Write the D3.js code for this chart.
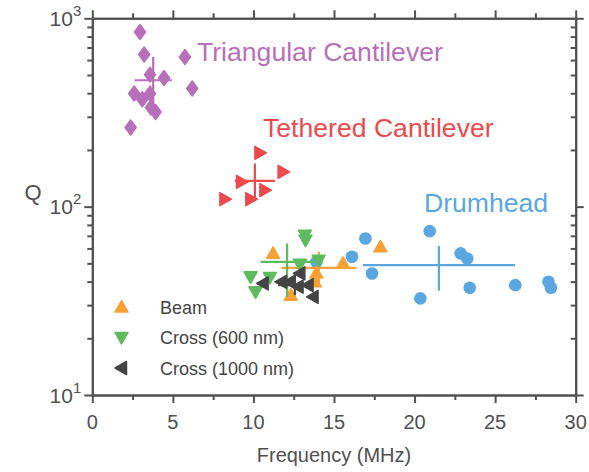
<!DOCTYPE html>
<html><head><meta charset="utf-8">
<script src="https://cdn.jsdelivr.net/npm/d3@7"></script>
<style>body{margin:0;background:#fff}</style>
</head><body>
<svg id="c" width="589" height="472"></svg>
<script>
// ---- data ----
const triangularFreq = [2.96,3.22,5.75,3.58,4.45,6.20,2.60,3.10,3.58,3.64,3.93,2.38];
const triangularQ    = [846,642,623,502,482,424,399,372,398,336,318,263];
const triangularMean = [3.78,469];      // [freq, Q]
const triangularErr  = [1.16,328,623];  // [freq half-width, Q low, Q high]

const tetheredFreq = [10.40,11.84,9.26,10.71,8.23,9.84];
const tetheredQ    = [193,153,135.5,122.4,109.6,109.6];
const tetheredMean = [10.09,137];
const tetheredErr  = [1.24,108.2,169.5];

const drumFreq = [13.91,16.12,16.95,17.36,20.36,20.94,22.86,23.27,23.42,26.25,28.31,28.46];
const drumQ    = [50.9,54.2,67.8,44.2,32.6,74.1,56.5,53.1,37.1,38.3,39.9,37.1];
const drumMean = [21.51,48.9];
const drumErr  = [4.72,35.8,61.7];

const beamFreq = [11.22,15.56,17.88,12.32,13.81,13.91];
const beamQ    = [56.5,50.0,61.2,33.9,39.9,44.4];
const beamMean = [14.06,47.3];
const beamErr  = [2.33,37.5,57.6];

const cross600Freq = [13.19,13.23,14.05,12.88,9.82,11.02,10.13];
const cross600Q    = [70.6,66.4,52.0,49.4,42.4,42.1,35.3];
const cross600Mean = [12.09,50.9];
const cross600Err  = [1.65,33.2,63.8];

const cross1000Freq = [10.60,11.74,12.26,12.88,12.77,13.39,13.70];
const cross1000Q    = [39.1,39.9,39.9,44.2,37.6,38.3,33.2];
const cross1000Mean = [12.57,38.3];
const cross1000Err  = [1.03,33.9,43.3];

const xTicks = [0,5,10,15,20,25,30];
const xMinor = [2.5,7.5,12.5,17.5,22.5,27.5];
const yTicks = [10,100,1000];
const yTickExp = ["1","2","3"];
const legendLabels = ["Beam","Cross (600 nm)","Cross (1000 nm)"];
const groupLabels = ["Triangular Cantilever","Tethered Cantilever","Drumhead"];

// ---- layout ----
const L=92.3, R=575.7, T=18.3, B=395;
const FONT = "'Liberation Sans', Arial, sans-serif";
const AX = "#505050";
const svg = d3.select("#c");
const x = d3.scaleLinear().domain([0,30]).range([L,R]);
const y = d3.scaleLog().domain([10,1000]).range([B,T]);
const yMinor = [];
[10,100].forEach(d=>{for(let k=2;k<=9;k++) yMinor.push(d*k);});

const col = {tri:"#b86fba", teth:"#ec4a4d", drum:"#5aa6e0", beam:"#f7a035", c600:"#5dba5e", c1000:"#444444"};

// axes
function styleAxis(g){ g.select(".domain").attr("stroke",AX).attr("stroke-width",2);
  g.selectAll(".tick line").attr("stroke",AX).attr("stroke-width",2);
  g.selectAll("text").remove(); }

svg.append("g").attr("transform",`translate(0,${B})`).call(d3.axisBottom(x).tickValues(xTicks).tickSize(8).tickSizeOuter(0)).call(styleAxis);
svg.append("g").attr("transform",`translate(0,${B})`).call(d3.axisBottom(x).tickValues(xMinor).tickSize(5).tickSizeOuter(0)).call(styleAxis);
svg.append("g").attr("transform",`translate(0,${T})`).call(d3.axisTop(x).tickValues(xTicks).tickSize(8).tickSizeOuter(0)).call(styleAxis);
svg.append("g").attr("transform",`translate(0,${T})`).call(d3.axisTop(x).tickValues(xMinor).tickSize(5).tickSizeOuter(0)).call(styleAxis);
svg.append("g").attr("transform",`translate(${L},0)`).call(d3.axisLeft(y).tickValues(yTicks).tickSize(8).tickSizeOuter(0)).call(styleAxis);
svg.append("g").attr("transform",`translate(${L},0)`).call(d3.axisLeft(y).tickValues(yMinor).tickSize(5).tickSizeOuter(0)).call(styleAxis);
svg.append("g").attr("transform",`translate(${R},0)`).call(d3.axisRight(y).tickValues(yTicks).tickSize(8).tickSizeOuter(0)).call(styleAxis);
svg.append("g").attr("transform",`translate(${R},0)`).call(d3.axisLeft(y).tickValues(yMinor).tickSize(5).tickSizeOuter(0)).call(styleAxis);

// tick labels
svg.append("g").selectAll("text").data(xTicks).join("text")
  .attr("x",d=>x(d)).attr("y",B+34).attr("text-anchor","middle")
  .attr("font-family",FONT).attr("font-size",20).attr("fill",AX).text(d=>d);
const yl = svg.append("g").selectAll("text").data(yTicks).join("text")
  .attr("x",L-11).attr("y",d=>y(d)+7.5).attr("text-anchor","end")
  .attr("font-family",FONT).attr("font-size",21).attr("fill",AX);
yl.append("tspan").text("10");
yl.append("tspan").attr("dy",-10).attr("font-size",15).text((d,i)=>yTickExp[i]);

svg.append("text").attr("x",(L+R)/2).attr("y",462).attr("text-anchor","middle")
  .attr("font-family",FONT).attr("font-size",20).attr("fill",AX).text("Frequency (MHz)");
svg.append("text").attr("x",33).attr("y",200).attr("text-anchor","middle")
  .attr("font-family",FONT).attr("font-size",22).attr("fill",AX).text("Q");

// marker shapes
const shapes = {
  diamond:"M0,-7.5L5.5,0L0,7.5L-5.5,0Z",
  up:"M0,-6.5L6.5,5L-6.5,5Z",
  down:"M0,6.5L6.5,-5L-6.5,-5Z",
  left:"M-6.5,0L5,-6.5L5,6.5Z",
  right:"M6.5,0L-5,-6.5L-5,6.5Z"
};
const plot = svg.append("g");
function series(fr,q,mean,err,color,shape){
  const g = plot.append("g");
  const pts = fr.map((f,i)=>[f,q[i]]);
  if(shape==="circle"){
    g.selectAll("circle").data(pts).join("circle").attr("cx",d=>x(d[0])).attr("cy",d=>y(d[1]))
      .attr("r",6.3).attr("fill",color);
  } else {
    g.selectAll("path").data(pts).join("path").attr("d",shapes[shape])
      .attr("transform",d=>`translate(${x(d[0])},${y(d[1])})`)
      .attr("fill",color).attr("stroke",color).attr("stroke-width",1.5).attr("stroke-linejoin","round");
  }
  g.append("line").attr("x1",x(mean[0]-err[0])).attr("x2",x(mean[0]+err[0]))
    .attr("y1",y(mean[1])).attr("y2",y(mean[1])).attr("stroke",color).attr("stroke-width",2.2);
  g.append("line").attr("x1",x(mean[0])).attr("x2",x(mean[0]))
    .attr("y1",y(err[1])).attr("y2",y(err[2])).attr("stroke",color).attr("stroke-width",2.2);
}
series(triangularFreq,triangularQ,triangularMean,triangularErr,col.tri,"diamond");
series(tetheredFreq,tetheredQ,tetheredMean,tetheredErr,col.teth,"right");
series(drumFreq,drumQ,drumMean,drumErr,col.drum,"circle");
series(beamFreq,beamQ,beamMean,beamErr,col.beam,"up");
series(cross600Freq,cross600Q,cross600Mean,cross600Err,col.c600,"down");
series(cross1000Freq,cross1000Q,cross1000Mean,cross1000Err,col.c1000,"left");

// group labels
const glPos = [[197,61,col.tri],[263,137,col.teth],[424,212,col.drum]];
svg.append("g").selectAll("text").data(groupLabels).join("text")
  .attr("x",(d,i)=>glPos[i][0]).attr("y",(d,i)=>glPos[i][1])
  .attr("font-family",FONT).attr("font-size",26.6).attr("fill",(d,i)=>glPos[i][2]).text(d=>d);

// legend
const legShapes = ["up","down","left"], legCols=[col.beam,col.c600,col.c1000];
const lg = svg.append("g").selectAll("g").data(legendLabels).join("g")
  .attr("transform",(d,i)=>`translate(121.5,${307+i*30.5})`);
lg.append("path").attr("d",(d,i)=>shapes[legShapes[i]]).attr("fill",(d,i)=>legCols[i])
  .attr("stroke",(d,i)=>legCols[i]).attr("stroke-width",1.5).attr("stroke-linejoin","round");
lg.append("text").attr("x",38.5).attr("y",6.5).attr("font-family",FONT).attr("font-size",18)
  .attr("fill","#444").text(d=>d);
</script>
</body></html>
